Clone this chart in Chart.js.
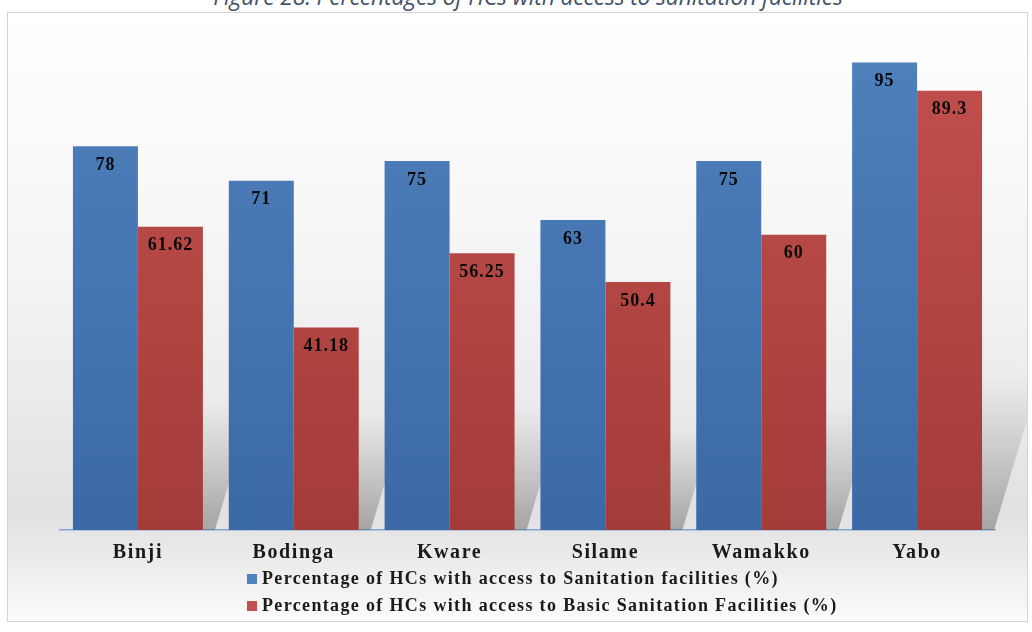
<!DOCTYPE html>
<html>
<head>
<meta charset="utf-8">
<script src="https://cdn.jsdelivr.net/npm/chart.js@4.4.1/dist/chart.umd.min.js"></script>
<style>
  html, body { margin:0; padding:0; width:1032px; height:632px; background:#ffffff; overflow:hidden; }
  #title { position:absolute; left:0; top:-18px; width:1056px; text-align:center; font-family:"Open Sans", sans-serif; font-style:italic; font-size:23px; color:#44546A; line-height:28px; letter-spacing:-0.2px; white-space:nowrap; }
  #box { position:absolute; left:7px; top:12px; width:1021px; height:610px; box-sizing:border-box; border:1px solid #d4d4d4;
         background:linear-gradient(to bottom, #ffffff 0%, #f8f8f8 30%, #ededed 60%, #e1e1e1 82%, #eeeeee 92%, #fbfbfb 100%); }
  #cv { position:absolute; left:0; top:0; }
  #legend { position:absolute; left:239px; top:552px; font-family:"Liberation Serif", serif; font-weight:bold; font-size:18px; color:#1a1a1a; letter-spacing:1.35px; }
  .row { height:27px; line-height:27px; white-space:nowrap; }
  .sw { display:inline-block; width:10px; height:10px; margin-right:5px; vertical-align:0px; }
</style>
</head>
<body>
<div id="title">Figure 28: Percentages of HCs with access to sanitation facilities</div>
<div id="box">
  <canvas id="cv" width="1019" height="570" style="width:1019px;height:570px"></canvas>
  <div id="legend"></div>
</div>
<script>
const categories = ["Binji", "Bodinga", "Kware", "Silame", "Wamakko", "Yabo"];
const sanitationAccess = [78, 71, 75, 63, 75, 95];
const basicSanitationAccess = [61.62, 41.18, 56.25, 50.4, 60, 89.3];
const seriesNames = [
  "Percentage of HCs with access to Sanitation facilities (%)",
  "Percentage of HCs with access to Basic Sanitation Facilities (%)"
];
const seriesLabels = [
  ["78", "71", "75", "63", "75", "95"],
  ["61.62", "41.18", "56.25", "50.4", "60", "89.3"]
];

function grad(ctx, top, bottom) {
  const c = ctx.chart;
  const a = c.chartArea;
  if (!a) return top;
  const g = c.ctx.createLinearGradient(0, a.top, 0, a.bottom);
  g.addColorStop(0, top);
  g.addColorStop(1, bottom);
  return g;
}

const shadowPlugin = {
  id: 'shadows',
  beforeDatasetsDraw(chart) {
    const ctx = chart.ctx;
    const m0 = chart.getDatasetMeta(0), m1 = chart.getDatasetMeta(1);
    const base = chart.scales.y.getPixelForValue(0);
    ctx.save();
    for (let i = 0; i < m0.data.length; i++) {
      const b0 = m0.data[i], b1 = m1.data[i];
      const left = b0.x - b0.width / 2, right = b1.x + b1.width / 2;
      const h = (base - Math.min(b0.y, b1.y)) * 0.33;
      const g = ctx.createLinearGradient(0, base, 0, base - h);
      g.addColorStop(0, 'rgba(90,90,90,0.45)');
      g.addColorStop(1, 'rgba(120,120,120,0)');
      ctx.fillStyle = g;
      ctx.beginPath();
      ctx.moveTo(left + 8, base);
      ctx.lineTo(right + 12, base);
      ctx.lineTo(right + 12 + h * 0.3, base - h);
      ctx.lineTo(left + 8 + h * 0.3, base - h);
      ctx.closePath();
      ctx.fill();
    }
    ctx.restore();
  }
};

const labelPlugin = {
  id: 'valueLabels',
  afterDatasetsDraw(chart) {
    const ctx = chart.ctx;
    ctx.save();
    ctx.font = 'bold 18px "Liberation Serif", serif';
    ctx.letterSpacing = '1px';
    ctx.fillStyle = '#0a0a0a';
    ctx.textAlign = 'center';
    ctx.textBaseline = 'middle';
    chart.data.datasets.forEach((ds, di) => {
      chart.getDatasetMeta(di).data.forEach((bar, i) => {
        ctx.fillText(seriesLabels[di][i], bar.x, bar.y + 19);
      });
    });
    ctx.restore();
  }
};

const spacingPlugin = {
  id: 'spacing',
  beforeDraw(chart) { chart.ctx.letterSpacing = '1.6px'; }
};

const chart = new Chart(document.getElementById('cv'), {
  type: 'bar',
  data: {
    labels: categories,
    datasets: [
      { label: seriesNames[0], data: sanitationAccess,
        backgroundColor: c => grad(c, '#4F81BD', '#3A69A6'), borderWidth: 0 },
      { label: seriesNames[1], data: basicSanitationAccess,
        backgroundColor: c => grad(c, '#C2504D', '#A33C39'), borderWidth: 0 }
    ]
  },
  options: {
    responsive: false,
    animation: false,
    devicePixelRatio: 1,
    layout: { padding: { left: 52, right: 32, top: 25, bottom: 7 } },
    datasets: { bar: { categoryPercentage: 0.834, barPercentage: 1.0 } },
    plugins: { legend: { display: false }, tooltip: { enabled: false }, title: { display: false } },
    scales: {
      y: { display: false, min: 0, max: 100 },
      x: {
        grid: { display: false, drawTicks: false },
        border: { display: true, color: '#7FA6D6', width: 1.5 },
        ticks: { padding: 11, color: '#1a1a1a', font: { family: '"Liberation Serif", serif', weight: 'bold', size: 20 } }
      }
    }
  },
  plugins: [spacingPlugin, shadowPlugin, labelPlugin]
});

const colors = ['#4F81BD', '#C0504D'];
const leg = document.getElementById('legend');
seriesNames.forEach((n, i) => {
  const r = document.createElement('div');
  r.className = 'row';
  const s = document.createElement('span');
  s.className = 'sw';
  s.style.background = colors[i];
  r.appendChild(s);
  r.appendChild(document.createTextNode(n));
  leg.appendChild(r);
});
</script>
</body>
</html>
